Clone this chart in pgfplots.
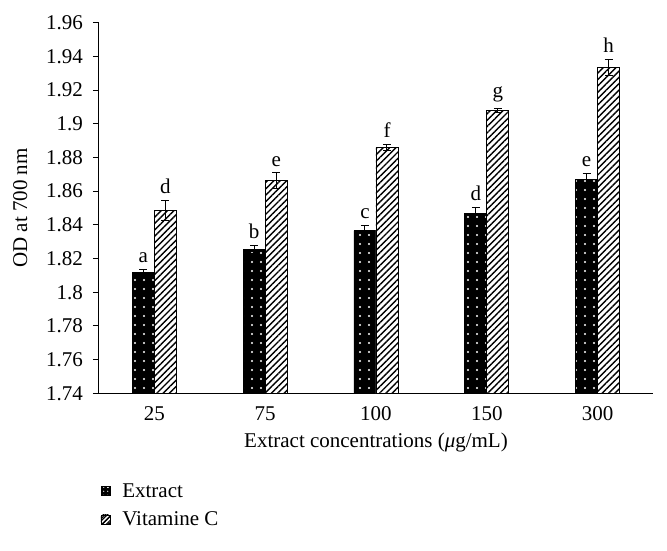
\documentclass[border=0pt]{standalone}
\usepackage{fontspec}
\setmainfont{Liberation Serif}
\usepackage{pgfplots}
\usepackage{pgfplotstable}
\pgfplotsset{compat=1.18}
\usetikzlibrary{patterns.meta}

\pgfplotstableread{
x y err lab
0 1.8120 0.0016 a
1 1.8255 0.0025 b
2 1.8365 0.0034 c
3 1.8469 0.0033 d
4 1.8670 0.0036 e
}\extract
\pgfplotstableread{
x y err lab
0 1.8484 0.0060 d
1 1.8662 0.0047 e
2 1.8860 0.0018 f
3 1.9078 0.0010 g
4 1.9335 0.0047 h
}\vitc

\begin{document}
\begin{tikzpicture}[font=\fontsize{21}{25}\selectfont]
\begin{axis}[
  scale only axis, width=554pt, height=370.6pt,
  xmin=-0.5, xmax=4.5, ymin=1.74, ymax=1.96,
  ybar, bar width=22pt,
  axis lines*=left,
  axis line style={line width=1pt, black},
  xtick={0,1,2,3,4}, xticklabels={25,75,100,150,300},
  x tick style={draw=none},
  ytick={1.74,1.76,1.78,1.8,1.82,1.84,1.86,1.88,1.9,1.92,1.94,1.96},
  tick align=outside, major tick length=6pt,
  y tick style={line width=1pt, black},
  /pgf/number format/assume math mode=true,
  xticklabel style={anchor=center, yshift=-14pt},
  yticklabel style={anchor=east, inner sep=0pt, xshift=-10pt},
  xlabel={Extract concentrations (\textit{μ}g/mL)},
  ylabel={OD at 700 nm},
  every axis x label/.style={at={(axis description cs:0.5,-0.1314)}, anchor=center},
  every axis y label/.style={at={(axis description cs:-0.142,0.5)}, anchor=center, rotate=90},
  legend style={at={(axis description cs:0.002,-0.24)}, anchor=north west, draw=none, fill=none, inner sep=0pt, row sep=11pt,
    nodes={inner sep=1pt},
    /tikz/every odd column/.append style={column sep=11pt}},
  legend cell align=left,
  error bars/y dir=both, error bars/y explicit,
  error bars/error bar style={line width=1pt, black},
  error bars/error mark options={rotate=90, mark size=4pt, line width=1pt, black},
  nodes near coords style={anchor=south, yshift=3pt, black},
]
\addplot[fill=black, draw=black, line width=0.8pt, bar shift=-11pt,
  postaction={pattern={Dots[distance=9pt, radius=1.1pt]}, pattern color=white},
  legend image code/.code={\draw[fill=black, draw=black, line width=0.6pt, postaction={pattern={Dots[distance=4pt, radius=0.7pt]}, pattern color=white}] (0pt,-4.5pt) rectangle (9pt,4.5pt);}]
  table[x=x, y=y, y error=err] {\extract};
\addlegendentry{Extract}
\addplot[fill=white, draw=black, line width=0.8pt, bar shift=11pt,
  postaction={pattern={Lines[angle=45, distance=4.5pt, line width=1.4pt]}, pattern color=black},
  legend image code/.code={\draw[fill=white, draw=black, line width=0.6pt, postaction={pattern={Lines[angle=45, distance=3pt, line width=1pt]}, pattern color=black}] (0pt,-4.5pt) rectangle (9pt,4.5pt);}]
  table[x=x, y=y, y error=err] {\vitc};
\addlegendentry{Vitamine C}
\addplot[draw=none, fill=none, bar shift=-11pt, forget plot, error bars/y dir=none,
  nodes near coords, point meta=explicit symbolic]
  table[x=x, y expr=\thisrow{y}+\thisrow{err}, meta=lab] {\extract};
\addplot[draw=none, fill=none, bar shift=11pt, forget plot, error bars/y dir=none,
  nodes near coords, point meta=explicit symbolic]
  table[x=x, y expr=\thisrow{y}+\thisrow{err}, meta=lab] {\vitc};
\end{axis}
\pgfresetboundingbox
\path (-99pt,-156.7pt) rectangle (568pt,393.3pt);
\end{tikzpicture}
\end{document}
